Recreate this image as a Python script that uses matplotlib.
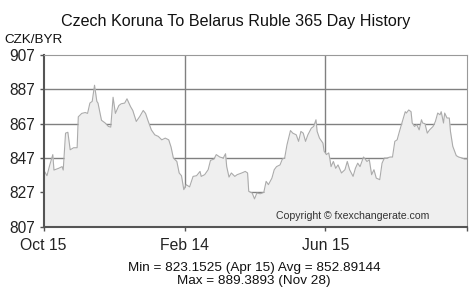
import matplotlib
matplotlib.use("Agg")
import matplotlib.pyplot as plt

plt.rcParams['font.family'] = ['Liberation Sans', 'DejaVu Sans']

# days since Oct 15, CZK/BYR rate
days = [0, 3, 5, 8, 9, 13, 16, 17, 19, 21, 23, 26, 29, 30, 33, 36, 38, 40, 42, 44,
        46, 47, 50, 53, 56, 58, 60, 62, 65, 67, 70, 72, 75, 77, 80, 83, 86, 88, 90, 93,
        96, 99, 102, 105, 108, 110, 112, 115, 117, 119, 121, 123, 126, 129, 132, 135, 136, 139, 142, 144,
        147, 149, 152, 155, 157, 158, 160, 162, 165, 167, 171, 174, 176, 177, 180, 182, 184, 187, 190, 192,
        194, 197, 199, 201, 204, 206, 208, 210, 213, 215, 218, 220, 222, 224, 226, 228, 231, 233, 235, 236,
        238, 241, 242, 244, 246, 247, 248, 250, 252, 254, 257, 260, 262, 264, 267, 269, 271, 273, 276, 279,
        281, 283, 285, 287, 290, 292, 294, 296, 299, 301, 303, 305, 307, 310, 312, 313, 315, 317, 318, 320,
        322, 324, 326, 327, 329, 331, 333, 336, 338, 340, 342, 343, 345, 346, 348, 350, 351, 353, 356, 358,
        361, 363, 365]
rates = [840.2, 836.7, 842.0, 849.0, 840.0, 841.0, 842.0, 840.0, 861.5, 862.0, 851.8, 853.0, 853.0, 871.0, 873.0, 873.5, 873.0, 879.0, 880.0, 889.4,
         880.0, 879.0, 869.0, 867.5, 865.4, 865.0, 882.4, 873.0, 877.6, 878.6, 879.0, 881.5, 877.0, 874.7, 868.3, 871.2, 874.7, 873.0, 869.0, 863.4,
         860.5, 859.6, 857.6, 858.6, 857.6, 853.4, 847.0, 845.0, 838.3, 836.7, 828.6, 831.5, 830.2, 836.3, 836.7, 839.2, 836.3, 837.3, 840.2, 845.6,
         846.4, 849.0, 847.6, 847.0, 849.5, 842.0, 835.9, 838.3, 836.3, 837.3, 838.3, 839.2, 838.3, 827.6, 826.6, 823.2, 826.6, 826.2, 827.0, 833.4,
         831.5, 835.3, 840.2, 842.0, 843.0, 846.4, 847.0, 854.7, 863.0, 861.5, 860.5, 856.7, 862.5, 861.5, 856.7, 860.5, 864.4, 865.4, 869.3, 862.5,
         858.6, 855.7, 851.0, 849.0, 850.0, 846.4, 842.0, 845.0, 841.0, 843.0, 838.3, 840.2, 845.0, 840.2, 836.3, 841.0, 844.0, 842.0, 847.6, 845.0,
         846.0, 837.3, 840.2, 835.3, 834.4, 844.0, 847.0, 847.0, 847.6, 847.6, 856.7, 857.6, 862.5, 869.3, 874.0, 873.2, 875.0, 874.0, 867.4, 865.4,
         866.4, 863.4, 869.3, 867.4, 867.0, 861.5, 863.4, 865.4, 868.3, 873.2, 872.2, 874.0, 867.4, 873.2, 870.3, 870.3, 862.5, 853.8, 848.4, 847.6,
         847.0, 846.4, 846.4]

tick_days = [0, 122, 243, 365]
tick_labels = ["Oct 15", "Feb 14", "Jun 15", ""]
y_ticks = [807, 827, 847, 867, 887, 907]

fig = plt.figure(figsize=(4.74, 2.92), dpi=100)
ax = fig.add_axes([0.0918, 0.2236, 0.8928, 0.588])

ax.fill_between(days, rates, 807, color="#efefef", zorder=2, linewidth=0)
ax.plot(days, rates, color="#ababab", linewidth=0.8, zorder=3)

for yv in y_ticks[1:-1]:
    ax.axhline(yv, color="#808080", linewidth=1.0, zorder=1)
for xv in tick_days[1:-1]:
    ax.axvline(xv, color="#808080", linewidth=1.0, zorder=1)

ax.set_xlim(0, 365)
ax.set_ylim(807, 907)
ax.set_xticks(tick_days)
ax.set_xticklabels(tick_labels, fontsize=11.3)
ax.set_yticks(y_ticks)
ax.set_yticklabels([str(v) for v in y_ticks], fontsize=11.2)
ax.tick_params(axis="x", length=3, width=1, color="#555555", pad=5, labelcolor="#222222")
ax.tick_params(axis="y", length=3, width=1, color="#555555", pad=3, labelcolor="#222222")

ax.spines["left"].set_color("#555555")
ax.spines["left"].set_linewidth(1.5)
ax.spines["bottom"].set_color("#555555")
ax.spines["bottom"].set_linewidth(1.5)
ax.spines["top"].set_color("#999999")
ax.spines["right"].set_color("#999999")
for s in ax.spines.values():
    s.set_zorder(4)

fig.text(0.497, 0.925, "Czech Koruna To Belarus Ruble 365 Day History",
         ha="center", va="center", fontsize=11.6, color="#111111")
fig.text(0.01, 0.862, "CZK/BYR", ha="left", va="center", fontsize=9.7, color="#111111")
ax.text(0.73, 0.06, "Copyright \u00a9 fxexchangerate.com", transform=ax.transAxes,
        ha="center", va="center", fontsize=7.6, color="#333333", zorder=5)
fig.text(0.536, 0.082, "Min = 823.1525 (Apr 15) Avg = 852.89144",
         ha="center", va="center", fontsize=9.7, color="#111111")
fig.text(0.536, 0.037, "Max = 889.3893 (Nov 28)",
         ha="center", va="center", fontsize=9.7, color="#111111")

fig.savefig("out.png", dpi=100)
